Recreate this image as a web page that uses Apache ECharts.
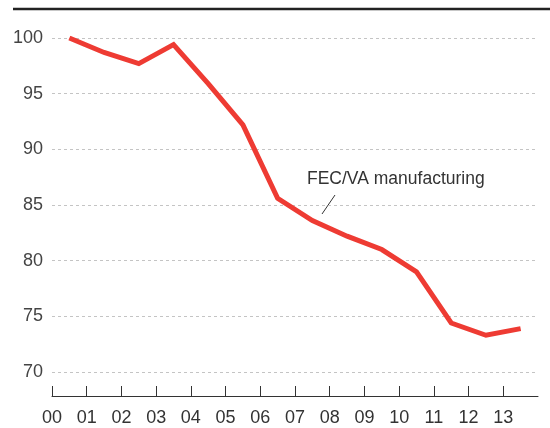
<!DOCTYPE html>
<html>
<head>
<meta charset="utf-8">
<script src="https://cdn.jsdelivr.net/npm/echarts@6/dist/echarts.min.js"></script>
<style>html,body{margin:0;padding:0;background:#fff}#c{width:550px;height:428px}</style>
</head>
<body>
<div id="c"></div>
<script>
var years = ['00','01','02','03','04','05','06','07','08','09','10','11','12','13'];
var fecVa = [100, 98.7, 97.7, 99.4, 95.9, 92.2, 85.6, 83.6, 82.2, 81.0, 79.0, 74.4, 73.3, 73.9];
var seriesName = 'FEC/VA manufacturing';
var yTicks = [70, 75, 80, 85, 90, 95, 100];

var font = '"Liberation Sans", Arial, sans-serif';
var tickPos = years.map(function(_, i){ return i; });
var chart = echarts.init(document.getElementById('c'), null, {renderer: 'canvas'});
chart.setOption({
  animation: false,
  grid: {left: 52, right: 12, top: 38, bottom: 56, containLabel: false},
  xAxis: {
    type: 'value', min: 0, max: years.length, interval: 1,
    offset: 24,
    axisLine: {show: true, lineStyle: {color: '#333', width: 1}},
    axisTick: {show: true, inside: true, length: 10, lineStyle: {color: '#333'}, customValues: tickPos},
    axisLabel: {customValues: tickPos, formatter: function(v){ return years[Math.round(v)] || ''; },
      color: '#333', fontSize: 18, fontFamily: font, margin: 13},
    splitLine: {show: false}
  },
  yAxis: {
    type: 'value', min: yTicks[0], max: yTicks[yTicks.length-1], interval: 5,
    axisLine: {show: false}, axisTick: {show: false},
    axisLabel: {color: '#444', fontSize: 18, fontFamily: font, margin: 9},
    splitLine: {show: true, lineStyle: {color: '#c4c4c4', type: [3, 3], width: 1}}
  },
  series: [{
    name: seriesName, type: 'line', symbol: 'none',
    data: fecVa.map(function(v, i){ return [i + 0.5, v]; }),
    lineStyle: {color: '#ee3b33', width: 5, join: 'miter'}
  }],
  graphic: [
    {type: 'line', shape: {x1: 13, y1: 9, x2: 550, y2: 9}, style: {stroke: '#222', lineWidth: 2.5}},
    {type: 'text', left: 307, top: 170, style: {text: seriesName, fill: '#333', font: '17.5px ' + font}},
    {type: 'line', shape: {x1: 322, y1: 214, x2: 335, y2: 195}, style: {stroke: '#333', lineWidth: 1}}
  ]
});
</script>
</body>
</html>
